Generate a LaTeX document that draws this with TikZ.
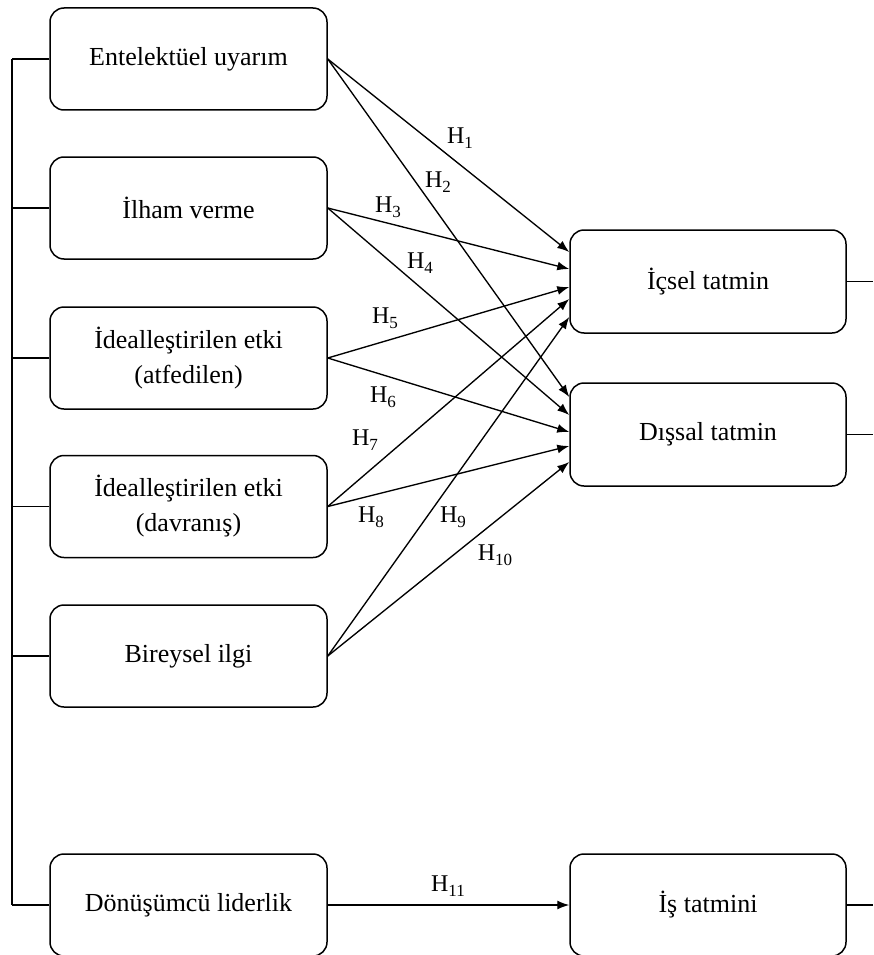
\documentclass[tikz,border=0pt]{standalone}
\usepackage{fontspec}
\setmainfont{Liberation Serif}
\usetikzlibrary{arrows.meta}
% hypothesis label with a lowered index
\newcommand{\hyp}[1]{H\raisebox{-4.5pt}{\fontsize{17}{17}\selectfont #1}}

\begin{document}
\begin{tikzpicture}[x=1pt,y=-1pt,
  box/.style={draw, line width=1.5pt, rounded corners=14pt,
    minimum width=277pt, minimum height=102pt, inner sep=0pt,
    align=center, font=\fontsize{26}{35}\selectfont},
  link/.style={line width=1.5pt},
  arr/.style={line width=1.35pt, -{Latex[length=12pt,width=9pt]}},
  hlab/.style={font=\fontsize{24}{24}\selectfont, inner sep=0pt}]
\useasboundingbox (0,0) rectangle (873,955);

% leadership dimensions
\node[box] (b1) at (188.5,59)  {Entelektüel uyarım};
\node[box] (b2) at (188.5,208) {İlham verme};
\node[box] (b3) at (188.5,358) {İdealleştirilen etki\\(atfedilen)};
\node[box] (b4) at (188.5,506.5) {İdealleştirilen etki\\(davranış)};
\node[box] (b5) at (188.5,656) {Bireysel ilgi};
\node[box] (b6) at (188.5,905) {Dönüşümcü liderlik};

% satisfaction outcomes
\node[box, minimum width=276pt, minimum height=103pt] (ic) at (708,281.5) {İçsel tatmin};
\node[box, minimum width=276pt, minimum height=103pt] (ds) at (708,434.5) {Dışsal tatmin};
\node[box, minimum width=276pt] (it) at (708,905) {İş tatmini};

% bracket on the left and stubs on the right
\coordinate (lx) at (12,0);
\coordinate (rx) at (873,0);
\draw[link] (b1.west -| lx) -- (b6.west -| lx);
\foreach \n in {b1,b2,b3,b4,b5,b6}
  \draw[link] (\n.west) -- (\n.west -| lx);
\foreach \n in {ic,ds,it}
  \draw[link] (\n.east) -- (\n.east -| rx);

% hypothesised paths
\draw[arr] (b1.east) -- ([yshift=29.5pt]ic.west);
\draw[arr] (b1.east) -- ([yshift=37.5pt]ds.west);
\draw[arr] (b2.east) -- ([yshift=12.5pt]ic.west);
\draw[arr] (b2.east) -- ([yshift=19.5pt]ds.west);
\draw[arr] (b3.east) -- ([yshift=-5.5pt]ic.west);
\draw[arr] (b3.east) -- ([yshift=2.5pt]ds.west);
\draw[arr] (b4.east) -- ([yshift=-17.5pt]ic.west);
\draw[arr] (b4.east) -- ([yshift=-11.5pt]ds.west);
\draw[arr] (b5.east) -- ([yshift=-35.5pt]ic.west);
\draw[arr] (b5.east) -- ([yshift=-27.5pt]ds.west);
\draw[arr] (b6.east) -- (it.west);

% labels
\node[hlab] (h1)  at (460,138) {\hyp{1}};
\node[hlab] (h2)  at (438,182) {\hyp{2}};
\node[hlab] (h3)  at (388,207) {\hyp{3}};
\node[hlab] (h4)  at (420,263) {\hyp{4}};
\node[hlab] (h5)  at (385,318) {\hyp{5}};
\node[hlab] (h6)  at (383,397) {\hyp{6}};
\node[hlab] (h7)  at (365,440) {\hyp{7}};
\node[hlab] (h8)  at (371,517) {\hyp{8}};
\node[hlab] (h9)  at (453,517) {\hyp{9}};
\node[hlab] (h10) at (495,555) {\hyp{10}};
\node[hlab] (h11) at (448,886) {\hyp{11}};
\end{tikzpicture}
\end{document}
